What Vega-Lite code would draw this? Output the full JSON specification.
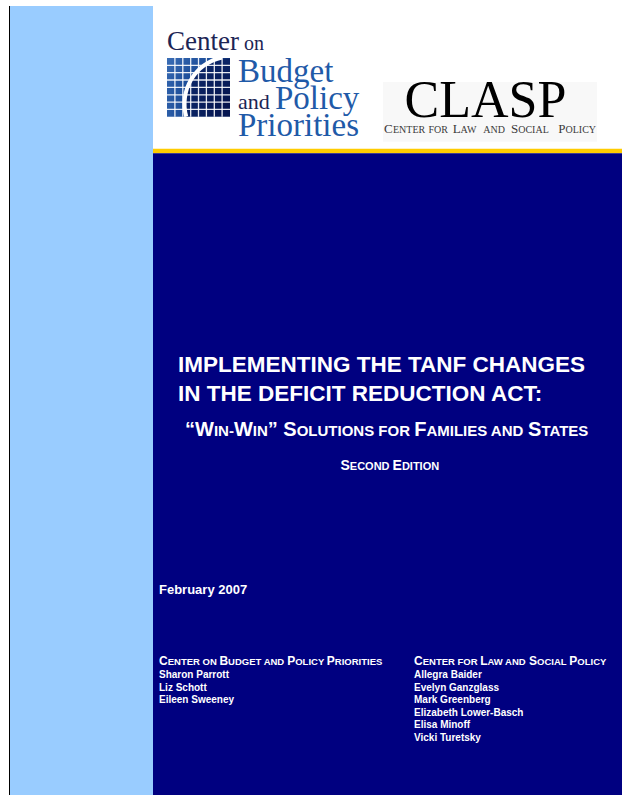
{
  "$schema": "https://vega.github.io/schema/vega-lite/v6.json",
  "width": 622,
  "height": 796,
  "autosize": {"type": "fit", "contains": "padding"},
  "padding": 0,
  "background": "white",
  "config": {"view": {"stroke": null}},
  "datasets": {
    "bg": [
      {"part": "strip", "x": 10, "x2": 153, "y": 6, "y2": 796},
      {"part": "gold", "x": 153, "x2": 622, "y": 149, "y2": 153.5},
      {"part": "navy", "x": 153, "x2": 622, "y": 153.5, "y2": 796},
      {"part": "box", "x": 383, "x2": 597, "y": 82, "y2": 142}
    ],
    "grid": [
      {"x": 174.9, "x2": 174.9, "y": 58, "y2": 117},
      {"x": 182.8, "x2": 182.8, "y": 58, "y2": 117},
      {"x": 190.7, "x2": 190.7, "y": 58, "y2": 117},
      {"x": 198.5, "x2": 198.5, "y": 58, "y2": 117},
      {"x": 206.4, "x2": 206.4, "y": 58, "y2": 117},
      {"x": 214.3, "x2": 214.3, "y": 58, "y2": 117},
      {"x": 222.1, "x2": 222.1, "y": 58, "y2": 117},
      {"x": 167, "x2": 230, "y": 65.4, "y2": 65.4},
      {"x": 167, "x2": 230, "y": 72.8, "y2": 72.8},
      {"x": 167, "x2": 230, "y": 80.1, "y2": 80.1},
      {"x": 167, "x2": 230, "y": 87.5, "y2": 87.5},
      {"x": 167, "x2": 230, "y": 94.9, "y2": 94.9},
      {"x": 167, "x2": 230, "y": 102.3, "y2": 102.3},
      {"x": 167, "x2": 230, "y": 109.6, "y2": 109.6}
    ],
    "words": [
      {"t": "Center", "x": 167, "y": 50, "r": "cbppCenter"},
      {"t": "on", "x": 244, "y": 50, "r": "cbppOn"},
      {"t": "and", "x": 238, "y": 109, "r": "cbppAnd"},
      {"t": "Budget", "x": 238, "y": 82.5, "r": "cbppBig"},
      {"t": "Policy", "x": 275, "y": 109, "r": "cbppBig"},
      {"t": "Priorities", "x": 238, "y": 136, "r": "cbppBig"},
      {"t": "CLASP", "x": 485.5, "y": 117, "r": "clasp"},
      {"t": "C", "x": 384, "y": 133.5, "r": "claspBig"},
      {"t": "L", "x": 452.7, "y": 133.5, "r": "claspBig"},
      {"t": "S", "x": 511, "y": 133.5, "r": "claspBig"},
      {"t": "P", "x": 558.3, "y": 133.5, "r": "claspBig"},
      {"t": "ENTER", "x": 393, "y": 133.5, "r": "claspSmall"},
      {"t": "FOR", "x": 428.5, "y": 133.5, "r": "claspSmall"},
      {"t": "AW", "x": 460.6, "y": 133.5, "r": "claspSmall"},
      {"t": "AND", "x": 483.3, "y": 133.5, "r": "claspSmall"},
      {"t": "OCIAL", "x": 518.2, "y": 133.5, "r": "claspSmall"},
      {"t": "OLICY", "x": 565.5, "y": 133.5, "r": "claspSmall"},
      {"t": "IMPLEMENTING THE TANF CHANGES", "x": 178, "y": 372, "r": "title"},
      {"t": "IN THE DEFICIT REDUCTION ACT:", "x": 178, "y": 402, "r": "title"},
      {"t": "“W", "x": 185, "y": 436.7, "r": "subBig"},
      {"t": "IN-", "x": 213.9, "y": 436.7, "r": "subSmall"},
      {"t": "W", "x": 233.9, "y": 436.7, "r": "subBig"},
      {"t": "IN", "x": 252.8, "y": 436.7, "r": "subSmall"},
      {"t": "” S", "x": 267.8, "y": 436.7, "r": "subBig"},
      {"t": "OLUTIONS FOR", "x": 296.7, "y": 436.7, "r": "subSmall"},
      {"t": "F", "x": 414.2, "y": 436.7, "r": "subBig"},
      {"t": "AMILIES AND", "x": 426.4, "y": 436.7, "r": "subSmall"},
      {"t": "S", "x": 528.1, "y": 436.7, "r": "subBig"},
      {"t": "TATES", "x": 541.4, "y": 436.7, "r": "subSmall"},
      {"t": "S", "x": 340.5, "y": 470.5, "r": "edBig"},
      {"t": "ECOND", "x": 349.8, "y": 470.5, "r": "edSmall"},
      {"t": "E", "x": 392.6, "y": 470.5, "r": "edBig"},
      {"t": "DITION", "x": 401.9, "y": 470.5, "r": "edSmall"},
      {"t": "February 2007", "x": 159, "y": 595, "r": "date"},
      {"t": "C", "x": 159, "y": 666, "r": "hdBig"},
      {"t": "ENTER ON", "x": 167.7, "y": 666, "r": "hdSmall"},
      {"t": "B", "x": 219.4, "y": 666, "r": "hdBig"},
      {"t": "UDGET AND", "x": 228.1, "y": 666, "r": "hdSmall"},
      {"t": "P", "x": 287.2, "y": 666, "r": "hdBig"},
      {"t": "OLICY", "x": 295.2, "y": 666, "r": "hdSmall"},
      {"t": "P", "x": 326.8, "y": 666, "r": "hdBig"},
      {"t": "RIORITIES", "x": 334.8, "y": 666, "r": "hdSmall"},
      {"t": "C", "x": 414, "y": 666, "r": "hdBig"},
      {"t": "ENTER FOR", "x": 422.7, "y": 666, "r": "hdSmall"},
      {"t": "L", "x": 480.2, "y": 666, "r": "hdBig"},
      {"t": "AW AND", "x": 487.5, "y": 666, "r": "hdSmall"},
      {"t": "S", "x": 529.1, "y": 666, "r": "hdBig"},
      {"t": "OCIAL", "x": 537.1, "y": 666, "r": "hdSmall"},
      {"t": "P", "x": 569.3, "y": 666, "r": "hdBig"},
      {"t": "OLICY", "x": 577.3, "y": 666, "r": "hdSmall"},
      {"t": "Sharon Parrott", "x": 159, "y": 679, "r": "name"},
      {"t": "Liz Schott", "x": 159, "y": 691.5, "r": "name"},
      {"t": "Eileen Sweeney", "x": 159, "y": 704, "r": "name"},
      {"t": "Allegra Baider", "x": 414, "y": 679, "r": "name"},
      {"t": "Evelyn Ganzglass", "x": 414, "y": 691.5, "r": "name"},
      {"t": "Mark Greenberg", "x": 414, "y": 704, "r": "name"},
      {"t": "Elizabeth Lower-Basch", "x": 414, "y": 716.5, "r": "name"},
      {"t": "Elisa Minoff", "x": 414, "y": 729, "r": "name"},
      {"t": "Vicki Turetsky", "x": 414, "y": 741.5, "r": "name"}
    ]
  },
  "encoding": {
    "x": {"field": "x", "type": "quantitative", "scale": {"domain": [0, 622], "nice": false, "zero": false}, "axis": null},
    "y": {"field": "y", "type": "quantitative", "scale": {"domain": [0, 796], "reverse": true, "nice": false, "zero": false}, "axis": null}
  },
  "layer": [
    {
      "data": {"name": "bg"},
      "mark": {"type": "rect"},
      "encoding": {
        "x2": {"field": "x2"},
        "y2": {"field": "y2"},
        "color": {"field": "part", "type": "nominal", "scale": {"domain": ["strip", "gold", "navy", "box"], "range": ["#99ccff", "#ffcc00", "#000080", "#f8f8f8"]}, "legend": null}
      }
    },
    {
      "data": {"values": [{"x": 9.5, "y": 6, "y2": 796}]},
      "mark": {"type": "rule", "color": "#000000", "strokeWidth": 1},
      "encoding": {"y2": {"field": "y2"}}
    },
    {
      "data": {"values": [{"x": 167, "x2": 230, "y": 58, "y2": 117}]},
      "mark": {
        "type": "rect",
        "color": {
          "gradient": "radial",
          "x1": 1.03, "y1": 0.78, "r1": 0,
          "x2": 1.03, "y2": 0.78, "r2": 1.3,
          "stops": [
            {"offset": 0, "color": "#04124a"},
            {"offset": 0.56, "color": "#0b2566"},
            {"offset": 0.6, "color": "#1b4c98"},
            {"offset": 1, "color": "#3d70b8"}
          ]
        }
      },
      "encoding": {"x2": {"field": "x2"}, "y2": {"field": "y2"}}
    },
    {
      "data": {"name": "grid"},
      "mark": {"type": "rule", "color": "#ffffff", "strokeWidth": 1.3, "opacity": 0.9},
      "encoding": {"x2": {"field": "x2"}, "y2": {"field": "y2"}}
    },
    {
      "data": {"values": [{"x": 232, "y": 104}]},
      "mark": {"type": "arc", "color": "#ffffff", "radius": 49.5, "radius2": 45.5, "theta": 4.44, "theta2": 6.07}
    },
    {
      "data": {"name": "words"},
      "transform": [{"filter": {"field": "r", "equal": "cbppCenter"}}],
      "mark": {"type": "text", "font": "Liberation Serif", "fontSize": 27, "color": "#1c2555", "align": "left", "baseline": "alphabetic"},
      "encoding": {"text": {"field": "t"}}
    },
    {
      "data": {"name": "words"},
      "transform": [{"filter": {"field": "r", "equal": "cbppOn"}}],
      "mark": {"type": "text", "font": "Liberation Serif", "fontSize": 20, "color": "#1c2555", "align": "left", "baseline": "alphabetic"},
      "encoding": {"text": {"field": "t"}}
    },
    {
      "data": {"name": "words"},
      "transform": [{"filter": {"field": "r", "equal": "cbppAnd"}}],
      "mark": {"type": "text", "font": "Liberation Serif", "fontSize": 22, "color": "#1c2555", "align": "left", "baseline": "alphabetic"},
      "encoding": {"text": {"field": "t"}}
    },
    {
      "data": {"name": "words"},
      "transform": [{"filter": {"field": "r", "equal": "cbppBig"}}],
      "mark": {"type": "text", "font": "Liberation Serif", "fontSize": 33, "color": "#1f5aa8", "align": "left", "baseline": "alphabetic"},
      "encoding": {"text": {"field": "t"}}
    },
    {
      "data": {"name": "words"},
      "transform": [{"filter": {"field": "r", "equal": "clasp"}}],
      "mark": {"type": "text", "font": "Liberation Serif", "fontSize": 52, "color": "#000000", "align": "center", "baseline": "alphabetic"},
      "encoding": {"text": {"field": "t"}}
    },
    {
      "data": {"name": "words"},
      "transform": [{"filter": {"field": "r", "equal": "claspBig"}}],
      "mark": {"type": "text", "font": "Liberation Serif", "fontSize": 13, "color": "#3a3a3a", "align": "left", "baseline": "alphabetic"},
      "encoding": {"text": {"field": "t"}}
    },
    {
      "data": {"name": "words"},
      "transform": [{"filter": {"field": "r", "equal": "claspSmall"}}],
      "mark": {"type": "text", "font": "Liberation Serif", "fontSize": 10, "color": "#3a3a3a", "align": "left", "baseline": "alphabetic"},
      "encoding": {"text": {"field": "t"}}
    },
    {
      "data": {"name": "words"},
      "transform": [{"filter": {"field": "r", "equal": "title"}}],
      "mark": {"type": "text", "font": "Liberation Sans", "fontWeight": "bold", "fontSize": 22.5, "color": "#ffffff", "align": "left", "baseline": "alphabetic"},
      "encoding": {"text": {"field": "t"}}
    },
    {
      "data": {"name": "words"},
      "transform": [{"filter": {"field": "r", "equal": "subBig"}}],
      "mark": {"type": "text", "font": "Liberation Sans", "fontWeight": "bold", "fontSize": 20, "color": "#ffffff", "align": "left", "baseline": "alphabetic"},
      "encoding": {"text": {"field": "t"}}
    },
    {
      "data": {"name": "words"},
      "transform": [{"filter": {"field": "r", "equal": "subSmall"}}],
      "mark": {"type": "text", "font": "Liberation Sans", "fontWeight": "bold", "fontSize": 15, "color": "#ffffff", "align": "left", "baseline": "alphabetic"},
      "encoding": {"text": {"field": "t"}}
    },
    {
      "data": {"name": "words"},
      "transform": [{"filter": {"field": "r", "equal": "edBig"}}],
      "mark": {"type": "text", "font": "Liberation Sans", "fontWeight": "bold", "fontSize": 14, "color": "#ffffff", "align": "left", "baseline": "alphabetic"},
      "encoding": {"text": {"field": "t"}}
    },
    {
      "data": {"name": "words"},
      "transform": [{"filter": {"field": "r", "equal": "edSmall"}}],
      "mark": {"type": "text", "font": "Liberation Sans", "fontWeight": "bold", "fontSize": 11, "color": "#ffffff", "align": "left", "baseline": "alphabetic"},
      "encoding": {"text": {"field": "t"}}
    },
    {
      "data": {"name": "words"},
      "transform": [{"filter": {"field": "r", "equal": "date"}}],
      "mark": {"type": "text", "font": "Liberation Sans", "fontWeight": "bold", "fontSize": 13, "color": "#ffffff", "align": "left", "baseline": "alphabetic"},
      "encoding": {"text": {"field": "t"}}
    },
    {
      "data": {"name": "words"},
      "transform": [{"filter": {"field": "r", "equal": "hdBig"}}],
      "mark": {"type": "text", "font": "Liberation Sans", "fontWeight": "bold", "fontSize": 12, "color": "#ffffff", "align": "left", "baseline": "alphabetic"},
      "encoding": {"text": {"field": "t"}}
    },
    {
      "data": {"name": "words"},
      "transform": [{"filter": {"field": "r", "equal": "hdSmall"}}],
      "mark": {"type": "text", "font": "Liberation Sans", "fontWeight": "bold", "fontSize": 9.5, "color": "#ffffff", "align": "left", "baseline": "alphabetic"},
      "encoding": {"text": {"field": "t"}}
    },
    {
      "data": {"name": "words"},
      "transform": [{"filter": {"field": "r", "equal": "name"}}],
      "mark": {"type": "text", "font": "Liberation Sans", "fontWeight": "bold", "fontSize": 10, "color": "#ffffff", "align": "left", "baseline": "alphabetic"},
      "encoding": {"text": {"field": "t"}}
    }
  ]
}
